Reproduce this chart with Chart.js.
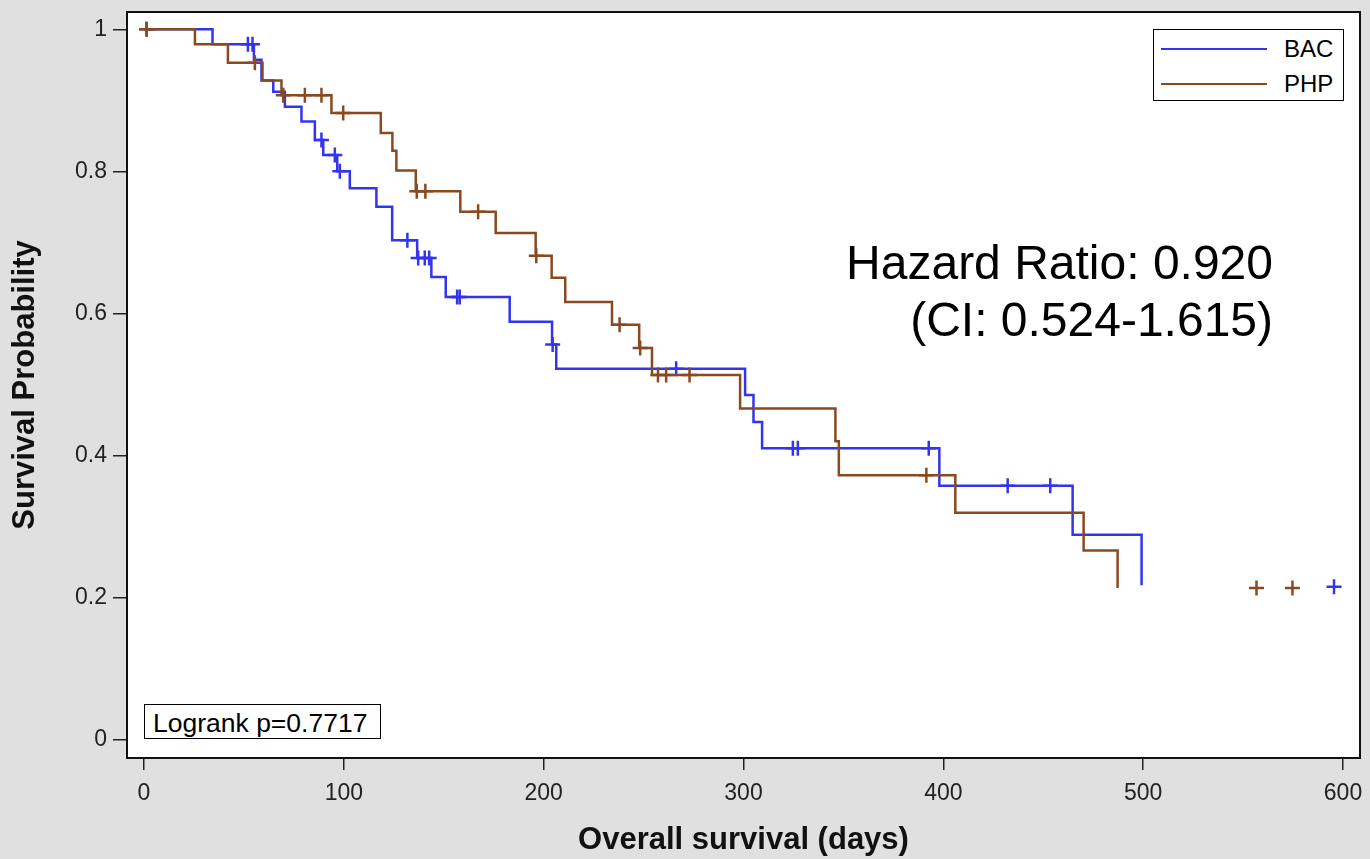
<!DOCTYPE html>
<html>
<head>
<meta charset="utf-8">
<script src="https://cdn.jsdelivr.net/npm/chart.js@4.4.0/dist/chart.umd.min.js"></script>
<style>
  html, body { margin: 0; padding: 0; background: #e0e0e0; }
  #wrap { position: relative; width: 1370px; height: 859px; overflow: hidden; font-family: "Liberation Sans", Arial, sans-serif; }
  #c { position: absolute; left: 0; top: 0; }
  .abs { position: absolute; white-space: nowrap; color: #000; }
  #legend { position: absolute; left: 1153px; top: 29px; width: 189px; height: 70px; border: 1.5px solid #000; background: #fff; }
  .lgline { position: absolute; left: 7px; width: 106px; height: 0; border-top: 2px solid; }
  .lgtext { position: absolute; left: 130px; font-size: 24px; line-height: 24px; }
  #logrank { position: absolute; left: 144px; top: 704px; width: 235px; height: 33px; border: 1.5px solid #000; background: #fff; }
  .hr { position: absolute; right: 97px; font-size: 48px; line-height: 48px; text-align: right; }
</style>
</head>
<body>
<div id="wrap">
  <canvas id="c" width="1370" height="859"></canvas>
  <div id="legend">
    <div class="lgline" style="top:18px;border-color:#3434f0"></div>
    <div class="lgtext" style="top:7px">BAC</div>
    <div class="lgline" style="top:53px;border-color:#8a4a1f"></div>
    <div class="lgtext" style="top:42px">PHP</div>
  </div>
  <div id="logrank"><div class="abs" style="left:8px;top:5px;font-size:26.5px;line-height:26px;">Logrank p=0.7717</div></div>
  <div class="hr" style="top:239px">Hazard Ratio: 0.920</div>
  <div class="hr" style="top:296px">(CI: 0.524-1.615)</div>
</div>
<script>
// ---- data ----
const bacTimes = [0, 34.3, 55, 58.8, 64.7, 70.5, 78.8, 85.5, 89.7, 96.7, 103, 116.3, 124.2, 136.7, 143.8, 151, 183, 204.2, 206.3, 300.8, 305, 309.3, 398, 464.7, 499.2];
const bacSurv  = [1.0, 0.979, 0.957, 0.928, 0.912, 0.891, 0.870, 0.844, 0.823, 0.800, 0.776, 0.750, 0.703, 0.678, 0.651, 0.623, 0.588, 0.556, 0.522, 0.485, 0.447, 0.410, 0.357, 0.288, 0.217];
const bacCensorTimes = [1.3, 52, 54.3, 88.8, 95.5, 98, 131.8, 137.2, 140.5, 142.7, 156.7, 158, 204.5, 266.3, 324.7, 327.2, 392.7, 432.2, 453.5, 595.5];
const bacCensorSurv  = [1.0, 0.979, 0.979, 0.844, 0.823, 0.800, 0.703, 0.678, 0.678, 0.678, 0.623, 0.623, 0.556, 0.522, 0.410, 0.410, 0.410, 0.357, 0.357, 0.215];

const phpTimes = [0, 25.5, 42, 59.3, 68.8, 93.8, 118.5, 124.3, 126.3, 136, 158.3, 176, 196, 204, 210.8, 234.2, 247.8, 254.2, 298.3, 346, 347.7, 406, 470.2, 487.2];
const phpSurv  = [1.0, 0.979, 0.953, 0.928, 0.907, 0.882, 0.854, 0.829, 0.801, 0.772, 0.743, 0.713, 0.681, 0.650, 0.616, 0.584, 0.551, 0.513, 0.466, 0.420, 0.372, 0.319, 0.266, 0.213];
const phpCensorTimes = [1.3, 55.5, 69.7, 80.5, 88.8, 99.7, 136.5, 140.8, 167.2, 196.3, 238, 248.3, 257.2, 261.3, 273, 391.5, 556.7, 574.7];
const phpCensorSurv  = [1.0, 0.953, 0.907, 0.907, 0.907, 0.882, 0.772, 0.772, 0.743, 0.681, 0.584, 0.551, 0.513, 0.513, 0.513, 0.372, 0.213, 0.213];

const xTicks = [0, 100, 200, 300, 400, 500, 600];
const xTickLabels = ['0', '100', '200', '300', '400', '500', '600'];
const yTicks = [0, 0.2, 0.4, 0.6, 0.8, 1];
const yTickLabels = ['0', '0.2', '0.4', '0.6', '0.8', '1'];

const BLUE = '#3434f0';
const BROWN = '#8a4a1f';

const pts = (xs, ys) => xs.map((x, i) => ({x: x, y: ys[i]}));

const bgPlugin = {
  id: 'bg',
  beforeDraw(chart) {
    const {ctx, chartArea: a} = chart;
    ctx.save();
    ctx.fillStyle = '#e0e0e0';
    ctx.fillRect(0, 0, chart.width, chart.height);
    ctx.fillStyle = '#ffffff';
    ctx.fillRect(a.left, a.top, a.right - a.left, a.bottom - a.top);
    ctx.restore();
  },
  afterDraw(chart) {
    const {ctx, chartArea: a} = chart;
    ctx.save();
    ctx.strokeStyle = '#111';
    ctx.lineWidth = 2;
    ctx.strokeRect(a.left, a.top, a.right - a.left, a.bottom - a.top);
    ctx.restore();
  }
};

const tickFont = {family: '"Liberation Sans", Arial, sans-serif', size: 23};
const titleFont = {family: '"Liberation Sans", Arial, sans-serif', size: 31, weight: 'bold'};

new Chart(document.getElementById('c'), {
  type: 'scatter',
  data: {
    datasets: [
      {label: 'BAC', data: pts(bacTimes, bacSurv), showLine: true, stepped: true,
       borderColor: BLUE, borderWidth: 2.5, pointRadius: 0, fill: false, order: 1},
      {label: 'PHP', data: pts(phpTimes, phpSurv), showLine: true, stepped: true,
       borderColor: BROWN, borderWidth: 2.5, pointRadius: 0, fill: false, order: 0},
      {label: 'BAC censored', data: pts(bacCensorTimes, bacCensorSurv), showLine: false,
       pointStyle: 'cross', pointRadius: 7.5, borderColor: BLUE, backgroundColor: BLUE, pointBorderWidth: 2.5, order: 1},
      {label: 'PHP censored', data: pts(phpCensorTimes, phpCensorSurv), showLine: false,
       pointStyle: 'cross', pointRadius: 7.5, borderColor: BROWN, backgroundColor: BROWN, pointBorderWidth: 2.5, order: 0}
    ]
  },
  options: {
    responsive: false,
    animation: false,
    devicePixelRatio: 1,
    layout: {padding: {left: 0, top: 12, right: 9, bottom: 0}},
    plugins: {legend: {display: false}, tooltip: {enabled: false}},
    scales: {
      x: {
        type: 'linear', min: -8.5, max: 608.5,
        afterBuildTicks: s => { s.ticks = xTicks.map(v => ({value: v})); },
        afterFit: s => { s.height = 101; s.paddingLeft = 0; s.paddingRight = 0; },
        ticks: {font: tickFont, color: '#222', padding: 10, maxRotation: 0,
                callback: (v) => { const i = xTicks.indexOf(v); return i >= 0 ? xTickLabels[i] : ''; }},
        grid: {drawOnChartArea: false, drawTicks: true, tickLength: 12, color: '#222', lineWidth: 1.5},
        border: {display: false},
        title: {display: true, text: 'Overall survival (days)', font: titleFont, color: '#111', padding: {top: 0, bottom: 0}}
      },
      y: {
        type: 'linear', min: -0.0263, max: 1.0244,
        afterBuildTicks: s => { s.ticks = yTicks.map(v => ({value: v})); },
        afterFit: s => { s.width = 127; s.paddingTop = 0; s.paddingBottom = 0; },
        ticks: {font: tickFont, color: '#222', padding: 6,
                callback: (v) => { const i = yTicks.indexOf(v); return i >= 0 ? yTickLabels[i] : ''; }},
        grid: {drawOnChartArea: false, drawTicks: true, tickLength: 14, color: '#222', lineWidth: 1.5},
        border: {display: false},
        title: {display: true, text: 'Survival Probability', font: titleFont, color: '#111', padding: {top: 7, bottom: 0}}
      }
    }
  },
  plugins: [bgPlugin]
});
</script>
</body>
</html>
